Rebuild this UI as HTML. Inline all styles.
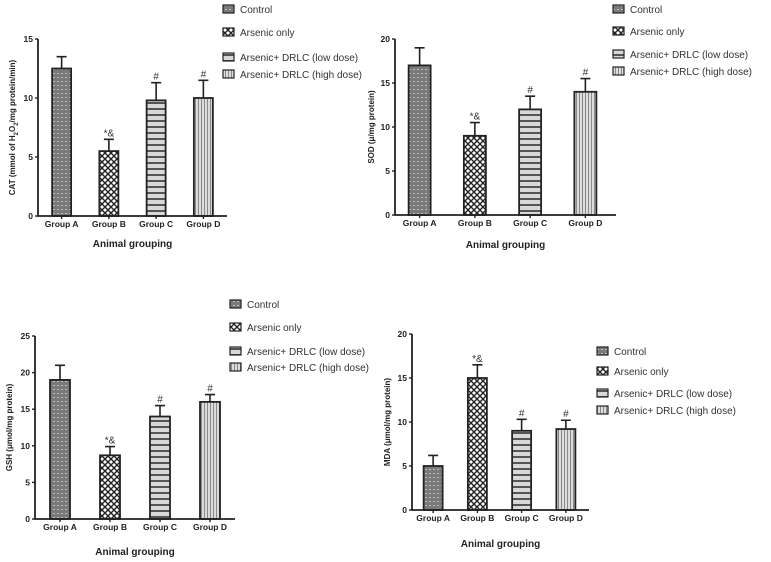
<!DOCTYPE html>
<html><head><meta charset="utf-8"><style>
html,body{margin:0;padding:0;background:#fff;}
svg{display:block;font-family:"Liberation Sans",Arial,sans-serif;}
</style></head><body>
<svg id="c" width="771" height="562" viewBox="0 0 771 562">
<defs>
<pattern id="pCtrl" width="4" height="4" patternUnits="userSpaceOnUse"><rect width="4" height="4" fill="#7a7a7a"/><rect x="1" y="1" width="2" height="1" fill="#bbb"/></pattern>
<pattern id="pArs" width="6" height="6" patternUnits="userSpaceOnUse"><rect width="6" height="6" fill="#fff"/><path d="M0,0L6,6M6,0L0,6" stroke="#222" stroke-width="1.4"/></pattern>
<pattern id="pLow" width="4" height="6" patternUnits="userSpaceOnUse"><rect width="4" height="6" fill="#d8d8d8"/><rect y="0" width="4" height="2" fill="#555"/></pattern>
<pattern id="pHigh" width="3" height="4" patternUnits="userSpaceOnUse"><rect width="3" height="4" fill="#dcdcdc"/><rect x="0" width="1" height="4" fill="#8a8a8a"/></pattern>
</defs>
</svg>
<script>
const groups = ["Group A","Group B","Group C","Group D"];
const legendLabels = ["Control","Arsenic only","Arsenic+ DRLC (low dose)","Arsenic+ DRLC (high dose)"];
const catValues = [12.5, 5.5, 9.8, 10];
const catErrors = [1.0, 1.0, 1.5, 1.5];
const sodValues = [17, 9, 12, 14];
const sodErrors = [2.0, 1.5, 1.5, 1.5];
const gshValues = [19, 8.7, 14, 16];
const gshErrors = [2.0, 1.2, 1.5, 1.0];
const mdaValues = [5, 15, 9, 9.2];
const mdaErrors = [1.2, 1.5, 1.3, 1.0];
const catTicks = [0,5,10,15];
const sodTicks = [0,5,10,15,20];
const gshTicks = [0,5,10,15,20,25];
const mdaTicks = [0,5,10,15,20];
const catMarks = ["","*&","#","#"];
const sodMarks = ["","*&","#","#"];
const gshMarks = ["","*&","#","#"];
const mdaMarks = ["","*&","#","#"];

const NS="http://www.w3.org/2000/svg";
const svg=document.getElementById('c');
const fills=["url(#pCtrl)","url(#pArs)","url(#pLow)","url(#pHigh)"];
function mk(tag,attrs,parent,text){const e=document.createElementNS(NS,tag);for(const k in attrs)e.setAttribute(k,attrs[k]);if(text!==undefined)e.textContent=text;(parent||svg).appendChild(e);return e;}

function panel(cfg){
  const g=mk('g',{});
  
  
  const ymax=cfg.ticks[cfg.ticks.length-1];
  const y=v=>cfg.y0-(v/ymax)*(cfg.y0-cfg.yTop);
  const slot=(cfg.xEnd-cfg.ax)/groups.length;
  const xc=i=>cfg.ax+slot*(i+0.5)+cfg.shift;
  cfg.values.forEach((v,i)=>{
    const top=y(v+cfg.errors[i]);
    const eb=mk('path',{d:`M${xc(i)},${y(v)}V${top}M${xc(i)-5},${top}H${xc(i)+5}`,stroke:'#222','stroke-width':1.6,fill:'none'},g);
    
    
    const r=mk('rect',{x:xc(i)-cfg.bw/2,y:y(v),width:cfg.bw,height:cfg.y0-y(v),fill:fills[i],stroke:'#222','stroke-width':1.8},g);
    
    
    if(cfg.marks[i]){
      const t=mk('text',{x:xc(i),y:top-3,'text-anchor':'middle','font-size':10,fill:'#333'},g,cfg.marks[i]);
      
      
    }
    const tl=mk('text',{x:xc(i),y:cfg.y0+11,'text-anchor':'middle','font-size':8.5,'font-weight':'bold',fill:'#222'},g,groups[i]);
    
    
  });
  const ax=mk('path',{d:`M${cfg.ax},${cfg.yTop}V${cfg.y0}H${cfg.xEnd}`,stroke:'#222','stroke-width':1.8,fill:'none'},g);
  
  
  cfg.ticks.forEach(t=>{
    mk('path',{d:`M${cfg.ax-3},${y(t)}H${cfg.ax}`,stroke:'#222','stroke-width':1.4},g);
    const tt=mk('text',{x:cfg.ax-5,y:y(t)+3,'text-anchor':'end','font-size':8.5,'font-weight':'bold',fill:'#222'},g,t);
    
    
  });
  groups.forEach((_,i)=>mk('path',{d:`M${xc(i)},${cfg.y0}V${cfg.y0+3}`,stroke:'#222','stroke-width':1.4},g));
  const xt=mk('text',{x:cfg.ax+(cfg.xEnd-cfg.ax)/2,y:cfg.titleY,'text-anchor':'middle','font-size':10,'font-weight':'bold',fill:'#222'},g,'Animal grouping');
  
  
  const yc=(cfg.y0+cfg.yTop)/2;
  const yt=mk('text',{x:cfg.ylx,y:yc,'text-anchor':'middle','font-size':8,'font-weight':'bold',fill:'#222',transform:`rotate(-90 ${cfg.ylx} ${yc})`},g);
  yt.innerHTML=cfg.ylabel;
  
  
  legendLabels.forEach((l,i)=>{
    const ly=cfg.legY[i];
    const s=mk('rect',{x:cfg.legX,y:ly-5,width:11,height:8,fill:fills[i],stroke:'#222','stroke-width':1.2},g);
    
    
    const t=mk('text',{x:cfg.legX+17,y:ly+3,'font-size':10,fill:'#333'},g,l);
    
    
  });
}

panel({name:'cat',values:catValues,errors:catErrors,ticks:catTicks,marks:catMarks,ax:38,xEnd:227,y0:216,yTop:39,bw:19,shift:0,titleY:247,ylx:15,
  ylabel:'CAT (mmol of H<tspan baseline-shift="sub" font-size="6">2</tspan>O<tspan baseline-shift="sub" font-size="6">2</tspan>/mg protein/min)',
  legX:223,legY:[10,33,58,75]});
panel({name:'sod',values:sodValues,errors:sodErrors,ticks:sodTicks,marks:sodMarks,ax:395,xEnd:616,y0:215,yTop:39,bw:22,shift:-3,titleY:248,ylx:374,
  ylabel:'SOD (μ/mg protein)',legX:613,legY:[10,32,55,72]});
panel({name:'gsh',values:gshValues,errors:gshErrors,ticks:gshTicks,marks:gshMarks,ax:35,xEnd:235,y0:519,yTop:336,bw:20,shift:0,titleY:555,ylx:12,
  ylabel:'GSH (μmol/mg protein)',legX:230,legY:[305,328,352,368]});
panel({name:'mda',values:mdaValues,errors:mdaErrors,ticks:mdaTicks,marks:mdaMarks,ax:412,xEnd:589,y0:510,yTop:334,bw:19,shift:-1,titleY:547,ylx:390,
  ylabel:'MDA (μmol/mg protein)',legX:597,legY:[352,372,394,411]});
</script>
</body></html>
